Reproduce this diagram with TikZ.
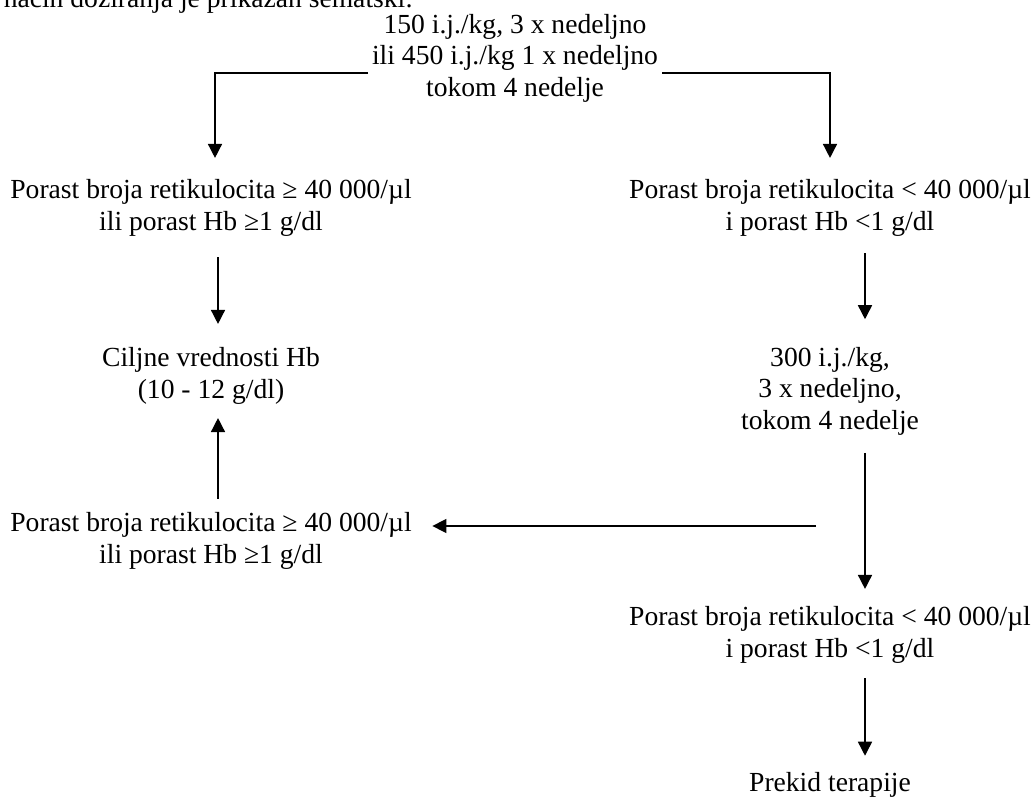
\documentclass[tikz,border=0pt]{standalone}
\usepackage{fontspec}
\setmainfont{Liberation Serif}
\usetikzlibrary{arrows.meta}

\begin{document}
\begin{tikzpicture}[x=1pt, y=-1pt, line width=1.5pt,
  txt/.style={align=center, inner sep=0pt, font=\fontsize{27.6}{31.5}\selectfont},
  arrow/.style={-{Triangle[length=14pt,width=14pt]}}]%
  \useasboundingbox (0, 0) rectangle (1033, 799);
  \node[txt, anchor=base west] (intro) at (3, 8) {način doziranja je prikazan šematski:};
  \node[txt] (dose) at (515, 58) {150 i.j./kg, 3 x nedeljno\\ili 450 i.j./kg 1 x nedeljno\\tokom 4 nedelje};
  \coordinate (doseL) at (368, 73);
  \coordinate (doseR) at (662, 73);

  \node[txt] (riseL) at (211, 208) {Porast broja retikulocita ≥ 40 000/µl\\ili porast Hb ≥1 g/dl};
  \node[txt] (riseR) at (830, 208) {Porast broja retikulocita < 40 000/µl\\i porast Hb <1 g/dl};
  \draw[arrow, shorten >=21pt] (doseL) -| ([xshift=4pt]riseL.north);
  \draw[arrow, shorten >=21pt] (doseR) -| (riseR.north);

  \node[txt, node distance=168pt, below of=riseL] (goal) {Ciljne vrednosti Hb\\(10 - 12 g/dl)};
  \node[txt, node distance=183pt, below of=riseR] (dose300) {300 i.j./kg,\\3 x nedeljno,\\tokom 4 nedelje};
  \draw[arrow, shorten <=20pt, shorten >=23pt] ([xshift=7pt]riseL.south) -- ([xshift=7pt]goal.north);
  \draw[arrow, shorten <=16pt, shorten >=27pt] ([xshift=35pt]riseR.south) -- ([xshift=35pt]dose300.north);

  \node[txt, node distance=165pt, below of=goal] (riseL2) {Porast broja retikulocita ≥ 40 000/µl\\ili porast Hb ≥1 g/dl};
  \node[txt, node distance=244pt, below of=dose300] (noRise) {Porast broja retikulocita < 40 000/µl\\i porast Hb <1 g/dl};
  \coordinate (split) at (816, 526);
  \draw[arrow, shorten <=13pt, shorten >=13pt] ([xshift=7pt]riseL2.north) -- ([xshift=7pt]goal.south);
  \draw[arrow, shorten >=20pt] (split) -- (split -| riseL2.east);
  \draw[arrow, shorten <=17pt, shorten >=17pt] ([xshift=35pt]dose300.south) -- ([xshift=35pt]noRise.north);

  \node[txt, node distance=150pt, below of=noRise] (stop) {Prekid terapije};
  \draw[arrow, shorten <=14pt, shorten >=16pt] ([xshift=35pt]noRise.south) -- ([xshift=35pt]stop.north);
\end{tikzpicture}
\end{document}
